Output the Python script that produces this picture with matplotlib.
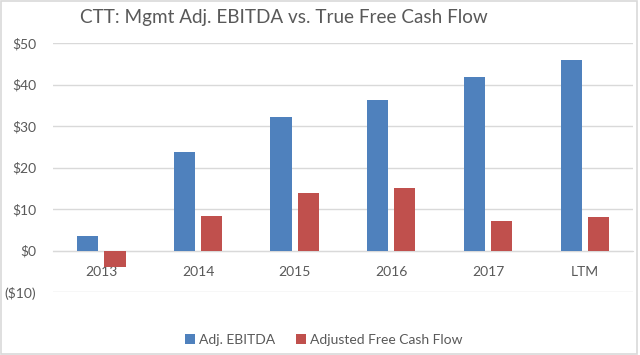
import matplotlib
matplotlib.use("Agg")
import matplotlib.pyplot as plt
from matplotlib.patches import Rectangle
from matplotlib.ticker import FuncFormatter
import numpy as np

categories = ["2013", "2014", "2015", "2016", "2017", "LTM"]
adj_ebitda = [3.4, 23.7, 32.1, 36.3, 41.9, 45.8]
adj_fcf = [-4.0, 8.2, 13.9, 15.0, 7.0, 8.0]

BLUE = "#4F81BD"
RED = "#C0504D"
TEXT = "#595959"
GRID = "#D9D9D9"

plt.rcParams["font.family"] = ["Lato", "DejaVu Sans"]

fig = plt.figure(figsize=(6.4, 3.55), dpi=100)
ax = fig.add_axes([53 / 640, 1 - 292 / 355, (633 - 53) / 640, (292 - 43) / 355])

x = np.arange(len(categories))
width = 0.22
ax.bar(x - 0.14, adj_ebitda, width, color=BLUE, label="Adj. EBITDA", zorder=3)
ax.bar(x + 0.14, adj_fcf, width, color=RED, label="Adjusted Free Cash Flow", zorder=3)

ax.set_xlim(-0.5, len(categories) - 0.5)
ax.set_ylim(-10, 50)
ax.set_yticks(range(-10, 51, 10))


def money(v, _pos):
    return f"(${-v:.0f})" if v < 0 else f"${v:.0f}"


ax.yaxis.set_major_formatter(FuncFormatter(money))
ax.grid(axis="y", color=GRID, linewidth=1, zorder=0)

for side in ["top", "right", "left"]:
    ax.spines[side].set_visible(False)
ax.spines["bottom"].set_position(("data", 0))
ax.spines["bottom"].set_color(GRID)
ax.spines["bottom"].set_zorder(1)

ax.set_xticks(x)
ax.set_xticklabels(categories)
ax.tick_params(axis="x", length=0, pad=11, labelsize=10, labelcolor=TEXT)
ax.tick_params(axis="y", length=0, pad=12, labelsize=10, labelcolor=TEXT)

fig.text(80 / 640, 1 - 18 / 355, "CTT: Mgmt Adj. EBITDA vs. True Free Cash Flow",
         fontsize=13.6, color=TEXT, ha="left", va="center")

ax.legend(loc="center", bbox_to_anchor=(324 / 640, 1 - 340 / 355),
          bbox_transform=fig.transFigure, ncol=2, frameon=False,
          fontsize=10, labelcolor=TEXT, handlelength=0.7, handleheight=0.7,
          handletextpad=0.3, columnspacing=1.5)

fig.patches.append(Rectangle((0.002, 0.004), 0.994, 0.994, transform=fig.transFigure,
                             fill=False, edgecolor=GRID, linewidth=1.2))

fig.savefig("out.png", dpi=100)
